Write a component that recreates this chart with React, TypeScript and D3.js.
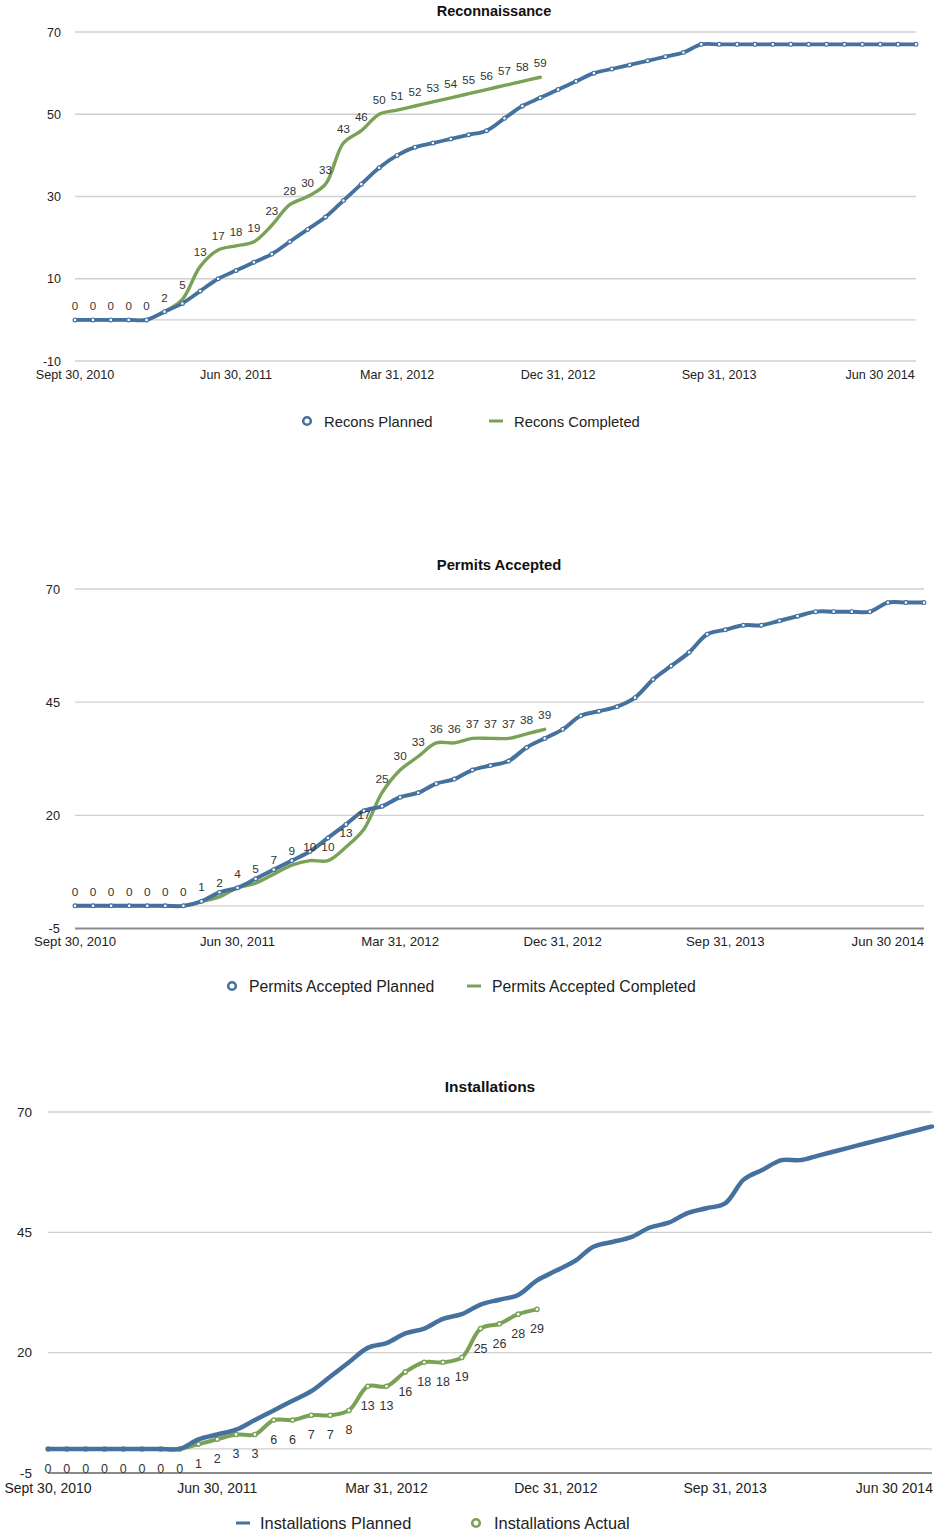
import React from "react";
import * as d3 from "d3";

// ---------- DATA ----------
const xTickLabels = ["Sept 30, 2010", "Jun 30, 2011", "Mar 31, 2012", "Dec 31, 2012", "Sep 31, 2013", "Jun 30 2014"];
const xTickIndex = [0, 9, 18, 27, 36, 45];

const reconPlanned = [0, 0, 0, 0, 0, 2, 4, 7, 10, 12, 14, 16, 19, 22, 25, 29, 33, 37, 40, 42, 43, 44, 45, 46, 49, 52, 54, 56, 58, 60, 61, 62, 63, 64, 65, 67, 67, 67, 67, 67, 67, 67, 67, 67, 67, 67, 67, 67];
const reconCompleted = [0, 0, 0, 0, 0, 2, 5, 13, 17, 18, 19, 23, 28, 30, 33, 43, 46, 50, 51, 52, 53, 54, 55, 56, 57, 58, 59];

const permitsPlanned = [0, 0, 0, 0, 0, 0, 0, 1, 3, 4, 6, 8, 10, 12, 15, 18, 21, 22, 24, 25, 27, 28, 30, 31, 32, 35, 37, 39, 42, 43, 44, 46, 50, 53, 56, 60, 61, 62, 62, 63, 64, 65, 65, 65, 65, 67, 67, 67];
const permitsCompleted = [0, 0, 0, 0, 0, 0, 0, 1, 2, 4, 5, 7, 9, 10, 10, 13, 17, 25, 30, 33, 36, 36, 37, 37, 37, 38, 39];

const installPlanned = [0, 0, 0, 0, 0, 0, 0, 0, 2, 3, 4, 6, 8, 10, 12, 15, 18, 21, 22, 24, 25, 27, 28, 30, 31, 32, 35, 37, 39, 42, 43, 44, 46, 47, 49, 50, 51, 56, 58, 60, 60, 61, 62, 63, 64, 65, 66, 67];
const installActual = [0, 0, 0, 0, 0, 0, 0, 0, 1, 2, 3, 3, 6, 6, 7, 7, 8, 13, 13, 16, 18, 18, 19, 25, 26, 28, 29];

const ticks1 = [70, 50, 30, 10, -10];
const ticks23 = [70, 45, 20, -5];

// ---------- STYLE ----------
const BLUE = "#45719f";
const GREEN = "#79a256";
const GRID = "#d0d0d0";
const FONT = "'Liberation Sans', Arial, Helvetica, sans-serif";

type Cfg = {
  title: string;
  titleX: number;
  titleY: number;
  titleSize: number;
  x0: number;
  x1: number;
  yDomain: [number, number];
  yRange: [number, number];
  yTicks: number[];
  yLabelX: number;
  xLabelY: number;
  tickSize: number;
  xTickSize: number;
  darkAxis: boolean;
  planned: number[];
  actual: number[];
  plannedMarkers: boolean;
  actualMarkers: boolean;
  plannedWidth: number;
  actualWidth: number;
  labelBelow: boolean;
  labelSize: number;
  legendY: number;
  legendSize: number;
  leg1X: number;
  leg2X: number;
  leg1Text: string;
  leg2Text: string;
};

const charts: Cfg[] = [
  {
    title: "Reconnaissance", titleX: 494, titleY: 16, titleSize: 14.5,
    x0: 75, x1: 916, yDomain: [-10, 70], yRange: [361, 32], yTicks: ticks1,
    yLabelX: 61, xLabelY: 379, tickSize: 12.5, xTickSize: 12.6, darkAxis: false,
    planned: reconPlanned, actual: reconCompleted, plannedMarkers: true, actualMarkers: false,
    plannedWidth: 3.8, actualWidth: 3.4, labelBelow: false, labelSize: 11.5,
    legendY: 421, legendSize: 14.8, leg1X: 307, leg2X: 496,
    leg1Text: "Recons Planned", leg2Text: "Recons Completed",
  },
  {
    title: "Permits Accepted", titleX: 499, titleY: 570, titleSize: 14.8,
    x0: 75, x1: 924, yDomain: [-5, 70], yRange: [928.5, 589], yTicks: ticks23,
    yLabelX: 60, xLabelY: 946, tickSize: 12.8, xTickSize: 13.2, darkAxis: true,
    planned: permitsPlanned, actual: permitsCompleted, plannedMarkers: true, actualMarkers: false,
    plannedWidth: 4, actualWidth: 3.4, labelBelow: false, labelSize: 11.8,
    legendY: 986, legendSize: 15.8, leg1X: 232, leg2X: 474,
    leg1Text: "Permits Accepted Planned", leg2Text: "Permits Accepted Completed",
  },
  {
    title: "Installations", titleX: 490, titleY: 1092, titleSize: 15.5,
    x0: 48, x1: 932, yDomain: [-5, 70], yRange: [1473, 1112], yTicks: ticks23,
    yLabelX: 32, xLabelY: 1493, tickSize: 13.5, xTickSize: 14, darkAxis: true,
    planned: installPlanned, actual: installActual, plannedMarkers: false, actualMarkers: true,
    plannedWidth: 4.5, actualWidth: 4, labelBelow: true, labelSize: 12.5,
    legendY: 1523, legendSize: 16.4, leg1X: 243, leg2X: 476,
    leg1Text: "Installations Planned", leg2Text: "Installations Actual",
  },
];

function Chart({ c }: { c: Cfg }) {
  const n = c.planned.length;
  const x = d3.scaleLinear().domain([0, n - 1]).range([c.x0, c.x1]);
  const y = d3.scaleLinear().domain(c.yDomain).range(c.yRange);
  const line = d3
    .line<number>()
    .x((_, i) => x(i))
    .y((d) => y(d))
    .curve(d3.curveCatmullRom.alpha(0.5));

  const gridVals = [...c.yTicks.filter((t) => t !== c.yDomain[0]), 0];
  const bottom = y(c.yDomain[0]);

  const plannedPath = (
    <path d={line(c.planned) || ""} fill="none" stroke={BLUE} strokeWidth={c.plannedWidth} strokeLinejoin="round" strokeLinecap="round" />
  );
  const plannedDots = c.plannedMarkers
    ? c.planned.map((d, i) => (
        <circle key={"p" + i} cx={x(i)} cy={y(d)} r={1.9} fill="#fff" stroke={BLUE} strokeWidth={1.2} />
      ))
    : null;
  const actualPath = (
    <path d={line(c.actual) || ""} fill="none" stroke={GREEN} strokeWidth={c.actualWidth} strokeLinejoin="round" strokeLinecap="round" />
  );
  const actualDots = c.actualMarkers
    ? c.actual.map((d, i) => (
        <circle key={"a" + i} cx={x(i)} cy={y(d)} r={2.1} fill="#fff" stroke={GREEN} strokeWidth={1.4} />
      ))
    : null;

  const legCircle = (cx: number, color: string) => (
    <circle cx={cx} cy={c.legendY} r={3.8} fill="#fff" stroke={color} strokeWidth={2.6} />
  );
  const legDash = (cx: number, color: string) => (
    <line x1={cx - 7} x2={cx + 7} y1={c.legendY} y2={c.legendY} stroke={color} strokeWidth={3} />
  );

  return (
    <g fontFamily={FONT}>
      <text x={c.titleX} y={c.titleY} textAnchor="middle" fontWeight="bold" fontSize={c.titleSize} fill="#111">
        {c.title}
      </text>
      {gridVals.map((t) => (
        <line key={"g" + t} x1={c.x0} x2={c.x1} y1={y(t)} y2={y(t)} stroke={GRID} strokeWidth={1.3} />
      ))}
      <line x1={c.x0} x2={c.x1} y1={bottom} y2={bottom} stroke={c.darkAxis ? "#8a8a8a" : GRID} strokeWidth={c.darkAxis ? 1.8 : 1.3} />
      {c.yTicks.map((t) => (
        <text key={"yt" + t} x={c.yLabelX} y={y(t) + 4.5} textAnchor="end" fontSize={c.tickSize} fill="#222">
          {t}
        </text>
      ))}
      {xTickIndex.map((idx, k) => (
        <text key={"xt" + k} x={x(idx)} y={c.xLabelY} textAnchor="middle" fontSize={c.xTickSize} fill="#222">
          {xTickLabels[k]}
        </text>
      ))}
      {c.plannedMarkers ? (
        <>
          {actualPath}
          {actualDots}
          {plannedPath}
          {plannedDots}
        </>
      ) : (
        <>
          {actualPath}
          {actualDots}
          {plannedPath}
        </>
      )}
      {c.actual.map((d, i) => (
        <text
          key={"l" + i}
          x={x(i)}
          y={c.labelBelow ? y(d) + 24 : y(d) - 10}
          textAnchor="middle"
          fontSize={c.labelSize}
          fill="#333"
        >
          {d}
        </text>
      ))}
      {c.plannedMarkers ? legCircle(c.leg1X, BLUE) : legDash(c.leg1X, BLUE)}
      <text x={c.leg1X + 17} y={c.legendY + 5.5} fontSize={c.legendSize} fill="#222">
        {c.leg1Text}
      </text>
      {c.actualMarkers ? legCircle(c.leg2X, GREEN) : legDash(c.leg2X, GREEN)}
      <text x={c.leg2X + 18} y={c.legendY + 5.5} fontSize={c.legendSize} fill="#222">
        {c.leg2Text}
      </text>
    </g>
  );
}

export default function App() {
  return (
    <svg
      width={935}
      height={1535}
      viewBox="0 0 935 1535"
      style={{ position: "absolute", left: 0, top: 0, background: "#fff" }}
    >
      <rect width={935} height={1535} fill="#fff" />
      {charts.map((c, i) => (
        <Chart key={i} c={c} />
      ))}
    </svg>
  );
}
